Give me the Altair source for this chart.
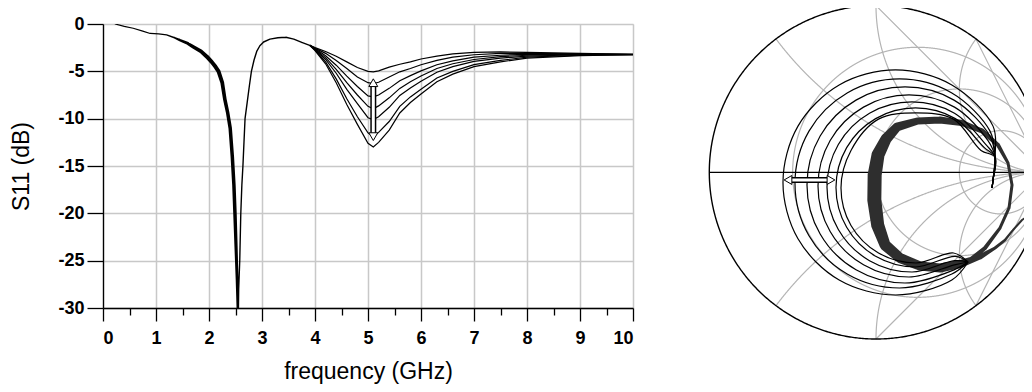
import altair as alt
import numpy as np
import pandas as pd

# ---------------- data ----------------
# S11 magnitude, part shared by all seven traces (GHz, dB)
freq_common = [0.23, 0.4, 0.57, 0.75, 0.89, 1.05, 1.2, 1.35, 1.45, 1.6, 1.7, 1.85, 1.96, 2.05, 2.12,
               2.18, 2.25, 2.30, 2.35, 2.40, 2.44, 2.47, 2.49, 2.51, 2.53, 2.545, 2.56, 2.58, 2.60, 2.62,
               2.64, 2.66, 2.68, 2.72, 2.76, 2.80, 2.85, 2.90, 2.96, 3.03, 3.15, 3.30, 3.45, 3.60, 3.75, 3.90]
s11_common = [0.0, -0.25, -0.45, -0.75, -1.0, -1.05, -1.15, -1.45, -1.7, -2.05, -2.4, -2.9, -3.45, -4.0, -4.5,
              -5.0, -6.2, -8.0, -9.3, -11.0, -14.0, -17.0, -20.0, -23.5, -27.0, -30.5, -28.0, -25.0, -20.0, -17.0,
              -15.0, -12.5, -10.0, -8.3, -6.6, -5.0, -3.8, -2.9, -2.3, -1.9, -1.6, -1.45, -1.4, -1.6, -1.95, -2.25]
# apparent thickness of the overlapping traces (px)
trace_width_common = [1.2, 1.2, 1.2, 1.2, 1.2, 1.2, 1.2, 1.8, 2.4, 3.0, 3.4, 3.8, 4.0, 4.0, 4.0,
                      4.0, 3.8, 3.6, 3.5, 3.5, 3.5, 3.5, 3.5, 3.2, 2.8, 2.4, 1.4, 1.4, 1.4, 1.4,
                      1.4, 1.4, 1.4, 1.4, 1.4, 1.4, 1.4, 1.4, 1.4, 1.4, 1.4, 1.4, 1.4, 1.4, 1.4, 1.4]

# S11 of the seven traces where they separate
freq_div = [3.90, 4.0, 4.2, 4.4, 4.6, 4.8, 5.0, 5.1, 5.2, 5.4, 5.6, 5.8, 6.0, 6.3, 6.6, 7.0, 7.5, 8.0, 9.0, 10.0]
s11_A = [-2.25, -2.5, -2.9, -3.4, -4.0, -4.6, -5.0, -5.05, -4.95, -4.55, -4.25, -4.0, -3.7, -3.4, -3.15, -3.0, -2.95, -3.0, -3.1, -3.2]
s11_B = [-2.25, -2.55, -3.1, -3.85, -4.7, -5.6, -6.2, -6.3, -6.15, -5.6, -5.05, -4.7, -4.3, -3.85, -3.5, -3.25, -3.1, -3.1, -3.15, -3.2]
s11_C = [-2.25, -2.6, -3.35, -4.35, -5.5, -6.6, -7.6, -7.7, -7.5, -6.8, -6.0, -5.45, -4.95, -4.3, -3.9, -3.5, -3.3, -3.2, -3.2, -3.2]
s11_D = [-2.25, -2.65, -3.55, -4.8, -6.2, -7.5, -8.7, -8.95, -8.65, -7.8, -6.8, -6.1, -5.5, -4.7, -4.2, -3.75, -3.45, -3.3, -3.2, -3.22]
s11_E = [-2.25, -2.7, -3.75, -5.2, -6.9, -8.4, -9.9, -10.1, -9.8, -8.8, -7.55, -6.75, -6.05, -5.1, -4.5, -3.95, -3.6, -3.4, -3.25, -3.23]
s11_F = [-2.25, -2.75, -4.0, -5.8, -7.9, -9.8, -11.5, -11.9, -11.45, -10.3, -8.7, -7.7, -6.9, -5.7, -5.0, -4.3, -3.85, -3.5, -3.3, -3.24]
s11_G = [-2.25, -2.8, -4.2, -6.2, -8.5, -10.6, -12.6, -13.0, -12.5, -11.2, -9.4, -8.3, -7.4, -6.1, -5.3, -4.5, -4.0, -3.6, -3.35, -3.25]
trace_names = ["A", "B", "C", "D", "E", "F", "G"]
trace_s11 = [s11_A, s11_B, s11_C, s11_D, s11_E, s11_F, s11_G]

x_ticks = [0, 0.5, 1, 1.5, 2, 2.5, 3, 3.5, 4, 4.5, 5, 5.5, 6, 6.5, 7, 7.5, 8, 8.5, 9, 9.5, 10]
y_ticks = [-30, -25, -20, -15, -10, -5, 0]

# Smith chart: reflection coefficient, shared part (Re, Im) and band thickness (px)
smith_common_re = [0.984, 0.936, 0.876, 0.822, 0.774, 0.714, 0.624, 0.504, 0.384, 0.264, 0.144, 0.054, 0.010, -0.010, -0.008,
                   0.012, 0.060, 0.126, 0.252, 0.384, 0.516, 0.636, 0.732, 0.792, 0.816, 0.798, 0.744, 0.654, 0.552]
smith_common_im = [-0.136, -0.245, -0.286, -0.346, -0.406, -0.454, -0.508, -0.550, -0.574, -0.562, -0.514, -0.436, -0.316, -0.166, -0.016,
                   0.104, 0.200, 0.272, 0.308, 0.314, 0.296, 0.248, 0.164, 0.056, -0.076, -0.214, -0.334, -0.454, -0.538]
smith_common_width = [2, 2, 2, 2, 2.5, 3, 5, 8, 9, 9, 10, 11, 13, 14, 14, 13, 11, 9, 7, 7, 6, 5, 4, 3, 3, 3, 3, 4, 5]

# the seven loops (one per trace)
loop_A_re = [0.455, 0.117, -0.221, -0.468, -0.558, -0.468, -0.221, 0.117, 0.455, 0.702]
loop_A_im = [-0.646, -0.736, -0.646, -0.399, -0.061, 0.277, 0.524, 0.614, 0.524, 0.277]
loop_B_re = [0.455, 0.141, -0.173, -0.402, -0.486, -0.402, -0.173, 0.141, 0.455, 0.684]
loop_B_im = [-0.610, -0.694, -0.610, -0.381, -0.067, 0.247, 0.476, 0.560, 0.476, 0.247]
loop_C_re = [0.468, 0.174, -0.120, -0.335, -0.414, -0.335, -0.120, 0.174, 0.468, 0.683]
loop_C_im = [-0.585, -0.664, -0.585, -0.370, -0.076, 0.218, 0.433, 0.512, 0.433, 0.218]
loop_D_re = [0.471, 0.198, -0.075, -0.275, -0.348, -0.275, -0.075, 0.198, 0.471, 0.671]
loop_D_im = [-0.555, -0.628, -0.555, -0.355, -0.082, 0.191, 0.391, 0.464, 0.391, 0.191]
loop_E_re = [0.471, 0.216, -0.039, -0.226, -0.294, -0.226, -0.039, 0.216, 0.471, 0.658]
loop_E_im = [-0.530, -0.598, -0.530, -0.343, -0.088, 0.167, 0.354, 0.422, 0.354, 0.167]
loop_F_re = [0.476, 0.237, -0.002, -0.176, -0.240, -0.176, -0.002, 0.237, 0.476, 0.650]
loop_F_im = [-0.504, -0.568, -0.504, -0.330, -0.091, 0.148, 0.322, 0.386, 0.322, 0.148]
loop_G_re = [0.465, 0.240, 0.015, -0.150, -0.210, -0.150, 0.015, 0.240, 0.465, 0.630]
loop_G_im = [-0.484, -0.544, -0.484, -0.319, -0.094, 0.131, 0.319, 0.356, 0.319, 0.131]
loops_re = [loop_A_re, loop_B_re, loop_C_re, loop_D_re, loop_E_re, loop_F_re, loop_G_re]
loops_im = [loop_A_im, loop_B_im, loop_C_im, loop_D_im, loop_E_im, loop_F_im, loop_G_im]
# common end of the sweep (up to 10 GHz)
smith_tail_re = [0.714, 0.702, 0.696]
smith_tail_im = [0.092, -0.046, -0.094]

# Smith chart grid
smith_r_values = [1 / 3, 1.0, 3.0]
smith_x_values = [0.5, 1.0, 2.0, -0.5, -1.0, -2.0]

# ---------------- layout constants ----------------
PLOT_LEFT, PLOT_TOP, PLOT_W, PLOT_H = 103, 24, 530, 284
SM_CX, SM_CY, SM_R = 876.0, 172.3, 166.7
sx0 = (PLOT_LEFT - SM_CX) / SM_R
sx1 = (PLOT_LEFT + PLOT_W - SM_CX) / SM_R
sy_top = (SM_CY - PLOT_TOP) / SM_R
sy_bot = (SM_CY - PLOT_TOP - PLOT_H) / SM_R
SVG_W, SVG_H = 1016, 376

FONT = "Liberation Sans"
LABEL_EXPR = "datum.value < 0 ? '-' + format(-datum.value, 'd') : format(datum.value, 'd')"

# ---------------- tables ----------------
df_common = pd.DataFrame({"f": freq_common, "db": s11_common, "w": trace_width_common,
                          "k": list(range(len(freq_common)))})
rows = []
for name, vals in zip(trace_names, trace_s11):
    for k, (f, d) in enumerate(zip(freq_div, vals)):
        rows.append({"trace": name, "f": f, "db": d, "k": k})
df_div = pd.DataFrame(rows)

arrow_f = freq_div[s11_G.index(min(s11_G))]
arrow_top = min(s11_A) - 0.55
arrow_bot = min(s11_G) + 0.5
head_db = 1.2
df_arrow_shaft = pd.DataFrame({"f": [arrow_f], "y1": [arrow_top - head_db * 0.8], "y2": [arrow_bot + head_db * 0.8]})
df_arrow_heads = pd.DataFrame({"f": [arrow_f, arrow_f], "db": [arrow_top - head_db / 2, arrow_bot + head_db / 2],
                               "dir": ["up", "down"]})

# Smith grid geometry
t = np.linspace(-np.pi, np.pi, 3601)
grid_rows = []
for i, r in enumerate(smith_r_values):
    c, rad = r / (1 + r), 1 / (1 + r)
    for k, tt in enumerate(t):
        grid_rows.append({"gid": f"r{i}", "k": k, "re": c + rad * np.cos(tt), "im": rad * np.sin(tt)})
for j, xv in enumerate(smith_x_values):
    rad = 1 / abs(xv)
    re = 1 + rad * np.cos(t)
    im = 1 / xv + rad * np.sin(t)
    inside = re ** 2 + im ** 2 <= 1.0 + 1e-9
    for k in np.where(inside)[0]:
        grid_rows.append({"gid": f"x{j}", "k": int(k), "re": float(re[k]), "im": float(im[k])})
df_grid = pd.DataFrame(grid_rows)

tt = np.linspace(0, 2 * np.pi, 721)
df_outer = pd.DataFrame({"re": np.cos(tt), "im": np.sin(tt), "k": np.arange(len(tt))})
df_axis = pd.DataFrame({"re": [-1.0, 1.0], "im": [0.0, 0.0], "k": [0, 1]})

df_smith_common = pd.DataFrame({"re": smith_common_re, "im": smith_common_im, "w": smith_common_width,
                                "k": list(range(len(smith_common_re)))})
loop_rows = []
for name, lre, lim in zip(trace_names, loops_re, loops_im):
    pts = [(smith_common_re[-1], smith_common_im[-1])] + list(zip(lre, lim)) + list(zip(smith_tail_re, smith_tail_im))
    for k, (a, b) in enumerate(pts):
        loop_rows.append({"trace": name, "re": a, "im": b, "k": k})
df_loops = pd.DataFrame(loop_rows)

sm_arrow_y = -0.046
sm_left = min(loop_A_re)
sm_right = min(loop_F_re)
sm_head = 0.06
df_sm_shaft = pd.DataFrame({"re": [sm_left + sm_head * 0.8, sm_right - sm_head * 0.8], "im": [sm_arrow_y, sm_arrow_y], "k": [0, 1]})
df_sm_heads = pd.DataFrame({"re": [sm_left + sm_head / 2, sm_right - sm_head / 2], "im": [sm_arrow_y, sm_arrow_y]})

# ---------------- S11 panel ----------------
x_axis = alt.Axis(values=x_ticks, title="frequency (GHz)",
                  labelExpr="datum.value % 1 ? '' : format(datum.value, 'd')",
                  tickSize={"condition": {"test": "datum.value % 1 != 0", "value": 7}, "value": 13},
                  gridOpacity={"condition": {"test": "datum.value % 1 != 0", "value": 0}, "value": 1},
                  grid=True, gridColor="#c8c8c8", gridWidth=1.5,
                  domainColor="black", domainWidth=1.3, tickColor="black", tickWidth=1.3,
                  labelFont=FONT, labelFontSize=18, labelFontWeight="bold", labelColor="black", labelPadding=8,
                  titleFont=FONT, titleFontSize=23, titleFontWeight="normal", titleColor="black", titlePadding=13)
y_axis = alt.Axis(values=y_ticks, title="S11 (dB)", labelExpr=LABEL_EXPR,
                  grid=True, gridColor="#c8c8c8", gridWidth=1.5, tickSize=16,
                  domainColor="black", domainWidth=1.3, tickColor="black", tickWidth=1.3,
                  labelFont=FONT, labelFontSize=18, labelFontWeight="bold", labelColor="black", labelPadding=3,
                  titleFont=FONT, titleFontSize=23, titleFontWeight="normal", titleColor="black", titlePadding=24)
xs = alt.Scale(domain=[0, 10], nice=False, zero=False)
ys = alt.Scale(domain=[-30, 0], nice=False, zero=False)
X = alt.X("f:Q", scale=xs, axis=x_axis)
Y = alt.Y("db:Q", scale=ys, axis=y_axis)

common_trail = alt.Chart(df_common).mark_trail(color="black", clip=True).encode(
    x=X, y=Y, size=alt.Size("w:Q", scale=None, legend=None), order="k:Q")
div_lines = alt.Chart(df_div).mark_line(color="black", strokeWidth=1.2, clip=True).encode(
    x=X, y=Y, detail="trace:N", order="k:Q")
Yr = alt.Y("y1:Q", scale=ys, axis=y_axis)
shaft_black = alt.Chart(df_arrow_shaft).mark_rule(color="black", strokeWidth=6).encode(x=X, y=Yr, y2="y2:Q")
shaft_white = alt.Chart(df_arrow_shaft).mark_rule(color="white", strokeWidth=3).encode(x=X, y=Yr, y2="y2:Q")
head_up = alt.Chart(df_arrow_heads[df_arrow_heads["dir"] == "up"]).mark_point(
    shape="triangle-up", filled=True, fill="white", stroke="black", strokeWidth=1, size=80, opacity=1).encode(x=X, y=Y)
head_dn = alt.Chart(df_arrow_heads[df_arrow_heads["dir"] == "down"]).mark_point(
    shape="triangle-down", filled=True, fill="white", stroke="black", strokeWidth=1, size=80, opacity=1).encode(x=X, y=Y)

s11_panel = alt.layer(common_trail, div_lines, shaft_black, shaft_white, head_up, head_dn)

# ---------------- Smith panel ----------------
smx = alt.Scale(domain=[sx0, sx1], nice=False, zero=False)
smy = alt.Scale(domain=[sy_bot, sy_top], nice=False, zero=False)
SX = alt.X("re:Q", scale=smx, axis=None)
SY = alt.Y("im:Q", scale=smy, axis=None)

grid = alt.Chart(df_grid).mark_line(color="#b4b4b4", strokeWidth=1.2).encode(x=SX, y=SY, detail="gid:N", order="k:Q")
outer = alt.Chart(df_outer).mark_line(color="black", strokeWidth=1.4).encode(x=SX, y=SY, order="k:Q")
real_axis = alt.Chart(df_axis).mark_line(color="black", strokeWidth=1.2).encode(x=SX, y=SY, order="k:Q")
band = alt.Chart(df_smith_common).mark_trail(color="#2e2e2e").encode(
    x=SX, y=SY, size=alt.Size("w:Q", scale=None, legend=None), order="k:Q")
loops = alt.Chart(df_loops).mark_line(color="black", strokeWidth=1.2, interpolate="catmull-rom").encode(
    x=SX, y=SY, detail="trace:N", order="k:Q")
sm_shaft_b = alt.Chart(df_sm_shaft).mark_line(color="black", strokeWidth=6).encode(x=SX, y=SY, order="k:Q")
sm_shaft_w = alt.Chart(df_sm_shaft).mark_line(color="white", strokeWidth=3).encode(x=SX, y=SY, order="k:Q")
sm_head_l = alt.Chart(df_sm_heads.iloc[[0]]).mark_point(
    shape="triangle-left", filled=True, fill="white", stroke="black", strokeWidth=1, size=80, opacity=1).encode(x=SX, y=SY)
sm_head_r = alt.Chart(df_sm_heads.iloc[[1]]).mark_point(
    shape="triangle-right", filled=True, fill="white", stroke="black", strokeWidth=1, size=80, opacity=1).encode(x=SX, y=SY)

smith_panel = alt.layer(grid, outer, real_axis, band, loops, sm_shaft_b, sm_shaft_w, sm_head_l, sm_head_r)

chart = alt.layer(s11_panel, smith_panel).resolve_scale(
    x="independent", y="independent").resolve_axis(x="independent", y="independent").properties(
    width=PLOT_W, height=PLOT_H,
    autosize=alt.AutoSizeParams(type="none"),
    padding={"left": PLOT_LEFT - 8, "top": PLOT_TOP - 8,
             "right": SVG_W - (PLOT_LEFT - 8) - PLOT_W, "bottom": SVG_H - (PLOT_TOP - 8) - PLOT_H},
).configure_view(stroke="black", strokeWidth=1.5).configure(background="white")

chart.save("out.html", embed_options={"renderer": "svg", "actions": False})
